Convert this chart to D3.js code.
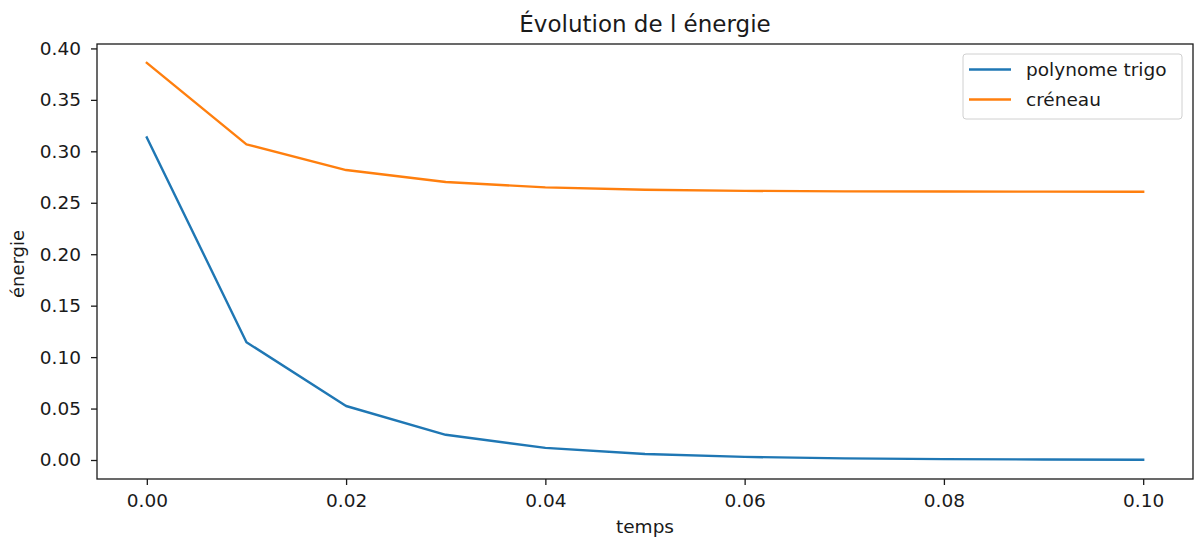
<!DOCTYPE html>
<html>
<head>
<meta charset="utf-8">
<script src="https://cdn.jsdelivr.net/npm/d3@7"></script>
<style>
  body { margin: 0; background: #fff; }
  svg { display: block; font-family: "DejaVu Sans", sans-serif; }
  .tick text { font-size: 18.5px; fill: #1a1a1a; }
</style>
</head>
<body>
<svg id="chart" width="1197" height="540"></svg>
<script>
// values
const temps = [0.0, 0.01, 0.02, 0.03, 0.04, 0.05, 0.06, 0.07, 0.08, 0.09, 0.1];
const polynomeTrigo = [0.3135, 0.1145, 0.0525, 0.0245, 0.0118, 0.0058, 0.0030, 0.0016, 0.0009, 0.0005, 0.0003];
const creneau = [0.386, 0.3068, 0.2818, 0.2702, 0.2650, 0.2627, 0.2616, 0.2611, 0.2609, 0.2608, 0.2607];
const xTicks = [0, 0.02, 0.04, 0.06, 0.08, 0.1];
const yTicks = [0, 0.05, 0.1, 0.15, 0.2, 0.25, 0.3, 0.35, 0.4];
const seriesNames = ["polynome trigo", "créneau"];
const colors = ["#1f77b4", "#ff7f0e"];

const MARGIN = { LEFT: 97, RIGHT: 4, TOP: 44, BOTTOM: 61 };
const width = 1197, height = 540;

let svg = d3.select("#chart");

let xScale = d3.scaleLinear()
  .domain([-0.005, 0.105])
  .range([MARGIN.LEFT, width - MARGIN.RIGHT]);

let yScale = d3.scaleLinear()
  .domain([-0.01846, 0.4043])
  .range([height - MARGIN.BOTTOM, MARGIN.TOP]);

let series = [polynomeTrigo, creneau];

let line = d3.line()
  .x((d, i) => xScale(temps[i]))
  .y((d) => yScale(d));

let plot = svg.append("g");

series.forEach((s, k) => {
  plot.append("path")
    .datum(s)
    .attr("d", line)
    .attr("fill", "none")
    .attr("stroke", colors[k])
    .attr("stroke-width", 2.4)
    .attr("stroke-linejoin", "round")
    .attr("stroke-linecap", "square");
});

// frame
svg.append("rect")
  .attr("x", MARGIN.LEFT)
  .attr("y", MARGIN.TOP)
  .attr("width", width - MARGIN.RIGHT - MARGIN.LEFT)
  .attr("height", height - MARGIN.BOTTOM - MARGIN.TOP)
  .attr("fill", "none")
  .attr("stroke", "#1a1a1a")
  .attr("stroke-width", 1.3);

let xAxis = d3.axisBottom(xScale)
  .tickValues(xTicks)
  .tickFormat(d3.format(".2f"))
  .tickSize(6)
  .tickPadding(9);

let gx = svg.append("g")
  .attr("transform", "translate(0," + (height - MARGIN.BOTTOM) + ")")
  .call(xAxis);
gx.select(".domain").remove();
gx.selectAll(".tick line").attr("stroke", "#1a1a1a").attr("stroke-width", 1.3);

let yAxis = d3.axisLeft(yScale)
  .tickValues(yTicks)
  .tickFormat(d3.format(".2f"))
  .tickSize(6)
  .tickPadding(10);

let gy = svg.append("g")
  .attr("transform", "translate(" + MARGIN.LEFT + ",0)")
  .call(yAxis);
gy.select(".domain").remove();
gy.selectAll(".tick line").attr("stroke", "#1a1a1a").attr("stroke-width", 1.3);
svg.selectAll(".tick text").attr("font-family", "DejaVu Sans");

// title and axis labels
svg.append("text")
  .attr("x", (MARGIN.LEFT + width - MARGIN.RIGHT) / 2)
  .attr("y", 32)
  .attr("text-anchor", "middle")
  .attr("font-size", 23)
  .attr("fill", "#1a1a1a")
  .text("Évolution de l énergie");

svg.append("text")
  .attr("x", (MARGIN.LEFT + width - MARGIN.RIGHT) / 2)
  .attr("y", 533)
  .attr("text-anchor", "middle")
  .attr("font-size", 18.5)
  .attr("fill", "#1a1a1a")
  .text("temps");

svg.append("text")
  .attr("transform", "translate(23.5,264) rotate(-90)")
  .attr("text-anchor", "middle")
  .attr("font-size", 18)
  .attr("fill", "#1a1a1a")
  .text("énergie");

// legend
let legend = svg.append("g").attr("transform", "translate(963,54)");
legend.append("rect")
  .attr("width", 219)
  .attr("height", 65)
  .attr("rx", 3)
  .attr("fill", "#fff")
  .attr("fill-opacity", 0.8)
  .attr("stroke", "#d0d0d0")
  .attr("stroke-width", 1);

seriesNames.forEach((name, k) => {
  let yy = 15.5 + k * 30;
  legend.append("line")
    .attr("x1", 6).attr("x2", 48)
    .attr("y1", yy).attr("y2", yy)
    .attr("stroke", colors[k])
    .attr("stroke-width", 2.4);
  legend.append("text")
    .attr("x", 63)
    .attr("y", yy)
    .attr("dy", "0.35em")
    .attr("font-size", 18.5)
    .attr("fill", "#1a1a1a")
    .text(name);
});
</script>
</body>
</html>
